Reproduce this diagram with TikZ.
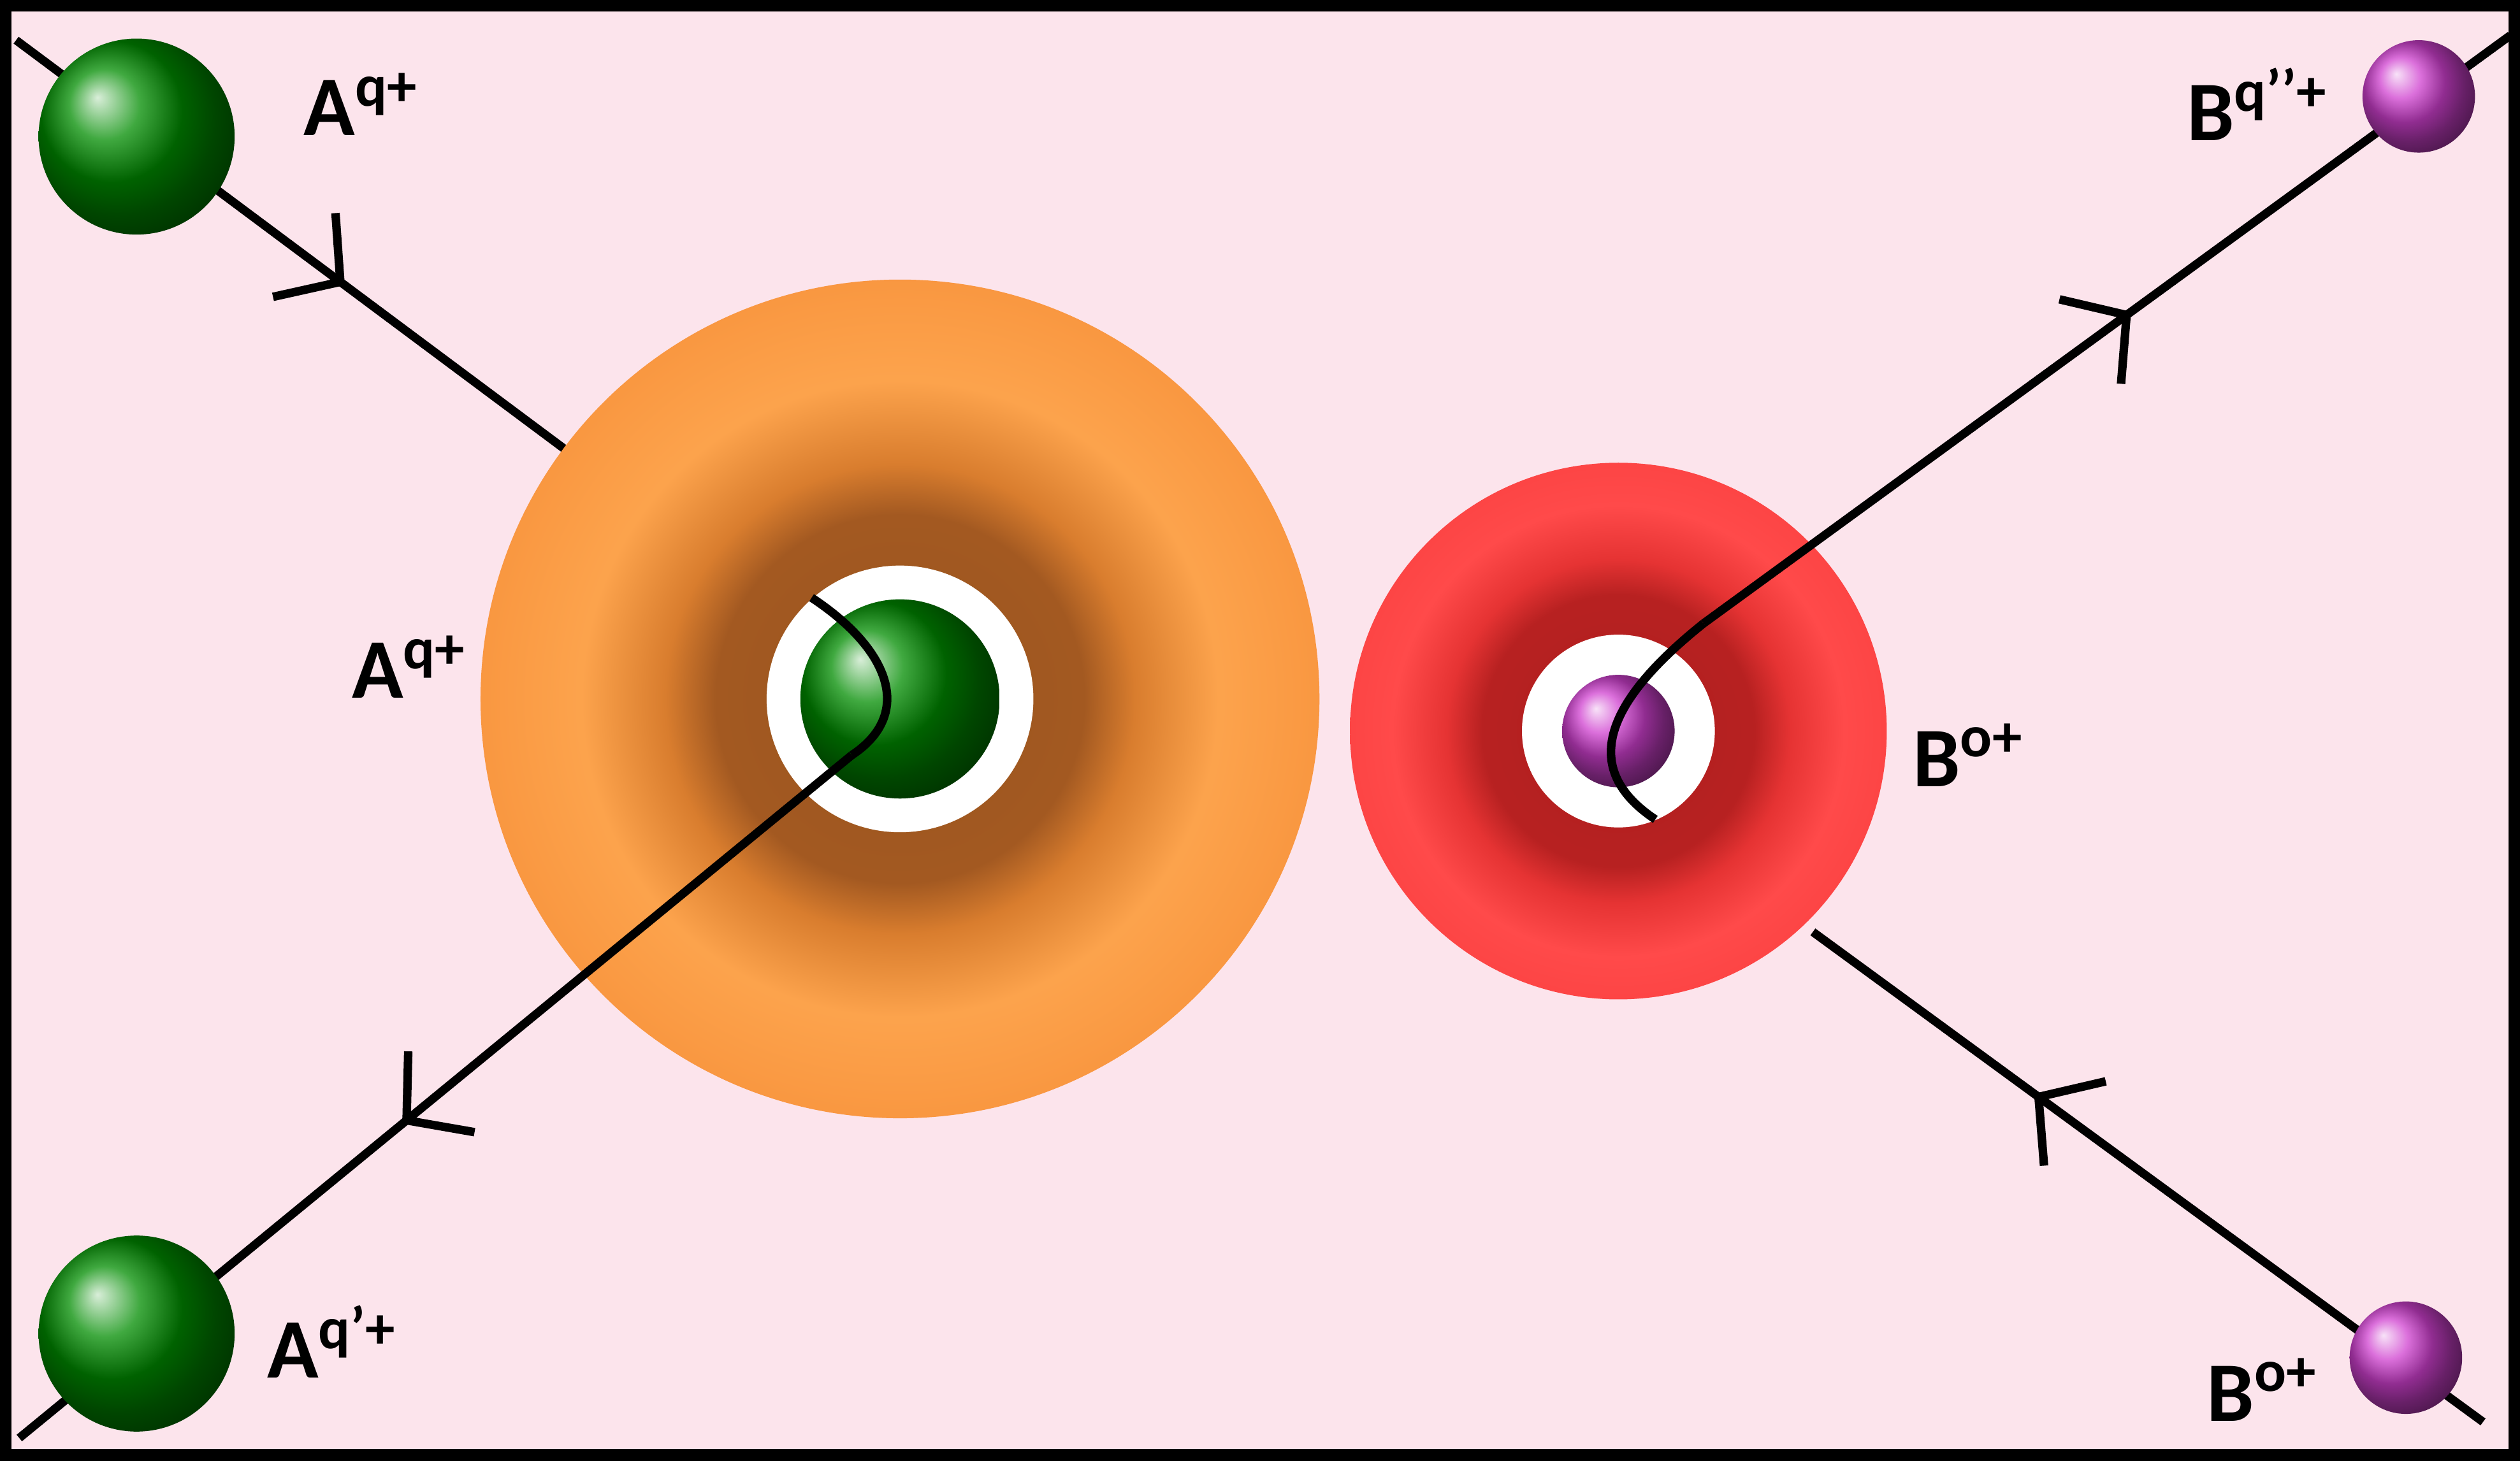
\documentclass[tikz,border=0pt]{standalone}
\usepackage{fontspec}
\setmainfont{Carlito}
\usetikzlibrary{arrows.meta,decorations.markings}
\definecolor{bg}{RGB}{252,228,236}
\pgfdeclareradialshading{orangetorus}{\pgfpoint{0bp}{0bp}}{%
 rgb(0bp)=(0.60,0.33,0.12);rgb(11bp)=(0.64,0.35,0.13);rgb(14bp)=(0.85,0.49,0.18);
 rgb(19bp)=(0.99,0.64,0.30);rgb(28bp)=(0.97,0.57,0.23);rgb(35.4bp)=(0.90,0.51,0.18);rgb(50bp)=(0.90,0.51,0.18)}
\pgfdeclareradialshading{redtorus}{\pgfpoint{0bp}{0bp}}{%
 rgb(0bp)=(0.68,0.12,0.12);rgb(12.7bp)=(0.72,0.13,0.13);rgb(16bp)=(0.90,0.20,0.20);
 rgb(21bp)=(1.0,0.29,0.29);rgb(29bp)=(0.98,0.25,0.25);rgb(35.4bp)=(0.91,0.21,0.21);rgb(50bp)=(0.91,0.21,0.21)}
\tikzset{
 traj/.style={line width=1.5pt,black},
 arr/.style={postaction={decorate},decoration={markings,mark=at position #1 with {\arrow{Straight Barb[length=2.8mm,width=6.5mm,line width=1.5pt]}}}},
 lab/.style={font=\fontsize{15}{17}\selectfont\bfseries,inner sep=0pt},
 gball/.style={ball color=green!55!black},
 pball/.style={ball color=violet!50!magenta!75},
}
\begin{document}
\begin{tikzpicture}[x=0.01cm,y=-0.01cm]
\fill[bg] (0,0) rectangle (1568,909);
\useasboundingbox (0,0) rectangle (1568,909);
\coordinate (tl0) at (10,25); \coordinate (tl1) at (352,280);
\coordinate (bl0) at (530,470); \coordinate (bl1) at (12,895);
\coordinate (r0) at (1060,388); \coordinate (r1) at (1562,22);
\coordinate (br0) at (1545,885); \coordinate (br1) at (1128,580);
\coordinate (OC) at (560,435); \coordinate (RC) at (1007,455);
\draw[traj,arr=0.6] (tl0) -- (tl1);
\shade[shading=orangetorus] (OC) circle (261);
\fill[white] (OC) circle (83);
\shade[gball] (OC) circle (62);
\shade[shading=redtorus] (RC) circle (167);
\fill[white] (RC) circle (60);
\shade[pball] (RC) circle (35);
\draw[traj] (505,372) .. controls (555,405) and (568,445) .. (bl0);
\draw[traj,arr=0.54] (bl0) -- (bl1);
\draw[traj] (1030,510) .. controls (985,480) and (995,440) .. (r0);
\draw[traj,arr=0.53] (r0) -- (r1);
\draw[traj,arr=0.67] (br0) -- (br1);
\shade[gball] (85,85) circle (61) node (ga) {};
\shade[gball] (85,830) circle (61) node (gb) {};
\shade[pball] (1505,60) circle (35) node (pa) {};
\shade[pball] (1497,845) circle (35) node (pb) {};
\node[lab] (l1) at (225,65) {A\textsuperscript{q+}};
\node[lab] (l2) at (255,415) {A\textsuperscript{q+}};
\node[lab] (l3) at (207,835) {A\textsuperscript{q’+}};
\node[lab] (l4) at (1225,470) {B\textsuperscript{o+}};
\node[lab] (l5) at (1405,65) {B\textsuperscript{q’’+}};
\node[lab] (l6) at (1408,865) {B\textsuperscript{o+}};
\draw[line width=4pt] (0,0) rectangle (1568,909);
\end{tikzpicture}
\end{document}
